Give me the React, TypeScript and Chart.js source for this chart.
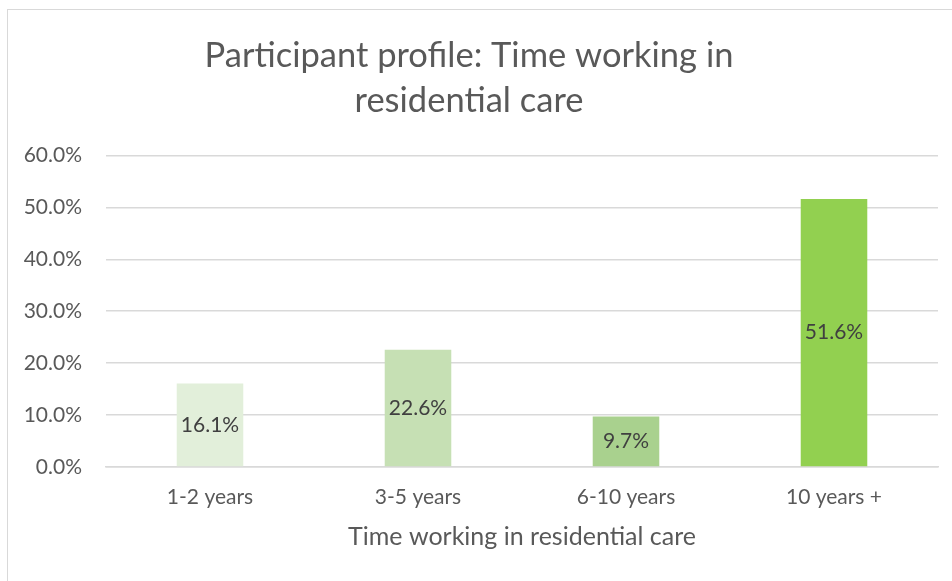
import React, { useEffect, useRef } from "react";
import { Chart, registerables } from "chart.js";

Chart.register(...registerables);

const categories = ["1-2 years", "3-5 years", "6-10 years", "10 years +"];
const values = [16.1, 22.6, 9.7, 51.6];
const barColors = ["#E2EFDA", "#C6E0B4", "#A9D18E", "#92D050"];
const yMin = 0;
const yMax = 60;
const yStep = 10;
const titleLines = ["Participant profile: Time working in", "residential care"];
const xAxisTitle = "Time working in residential care";

const FONT = "Lato, 'Open Sans', sans-serif";
const TEXT = "#595959";
const GRID = "#D9D9D9";

const valueLabels = {
  id: "valueLabels",
  afterDatasetsDraw(chart: any) {
    const ctx = chart.ctx;
    const meta = chart.getDatasetMeta(0);
    ctx.save();
    ctx.font = `21px ${FONT}`;
    ctx.fillStyle = "#404040";
    ctx.textAlign = "center";
    ctx.textBaseline = "middle";
    meta.data.forEach((bar: any, i: number) => {
      const p = bar.getProps(["x", "y", "base"], true);
      ctx.fillText(values[i].toFixed(1) + "%", p.x, (p.y + p.base) / 2);
    });
    ctx.restore();
  },
};

export default function App() {
  const ref = useRef<HTMLCanvasElement | null>(null);
  useEffect(() => {
    if (!ref.current) return;
    const chart = new Chart(ref.current, {
      type: "bar",
      data: {
        labels: categories,
        datasets: [
          {
            data: values,
            backgroundColor: barColors,
            borderWidth: 0,
            categoryPercentage: 0.64,
            barPercentage: 0.5,
          },
        ],
      },
      options: {
        animation: false,
        responsive: false,
        layout: { padding: { left: 0, right: 14, top: 0, bottom: 0 } },
        plugins: {
          legend: { display: false },
          tooltip: { enabled: false },
          title: {
            display: true,
            text: titleLines,
            color: TEXT,
            font: { family: FONT, size: 34.5, weight: "normal", lineHeight: 1.31 },
            padding: { top: 33, bottom: 32 },
          },
        },
        scales: {
          y: {
            min: yMin,
            max: yMax,
            ticks: {
              stepSize: yStep,
              color: TEXT,
              font: { family: FONT, size: 21 },
              padding: 24,
              callback: (v: any) => Number(v).toFixed(1) + "%",
            },
            grid: { color: GRID, lineWidth: 1.5, drawTicks: false },
            border: { display: false },
            afterFit: (s: any) => {
              s.width = 106;
            },
          },
          x: {
            ticks: {
              color: TEXT,
              font: { family: FONT, size: 21 },
              padding: 18,
            },
            grid: { display: false, drawTicks: false },
            border: { color: GRID, width: 1.5 },
            title: {
              display: true,
              text: xAxisTitle,
              color: TEXT,
              font: { family: FONT, size: 25 },
              padding: { top: 4, bottom: 29 },
            },
            afterFit: (s: any) => {
              s.height = 114;
            },
          },
        },
      },
      plugins: [valueLabels],
    });
    return () => chart.destroy();
  }, []);

  return (
    <div
      style={{
        position: "fixed",
        left: 0,
        top: 0,
        width: 952,
        height: 581,
        overflow: "hidden",
        background: "#fff",
      }}
    >
      <div
        style={{
          position: "absolute",
          left: 7,
          top: 9,
          width: 1000,
          height: 700,
          border: "1px solid #D9D9D9",
        }}
      />
      <canvas
        ref={ref}
        width={952}
        height={581}
        style={{ position: "absolute", left: 0, top: 0 }}
      />
    </div>
  );
}
